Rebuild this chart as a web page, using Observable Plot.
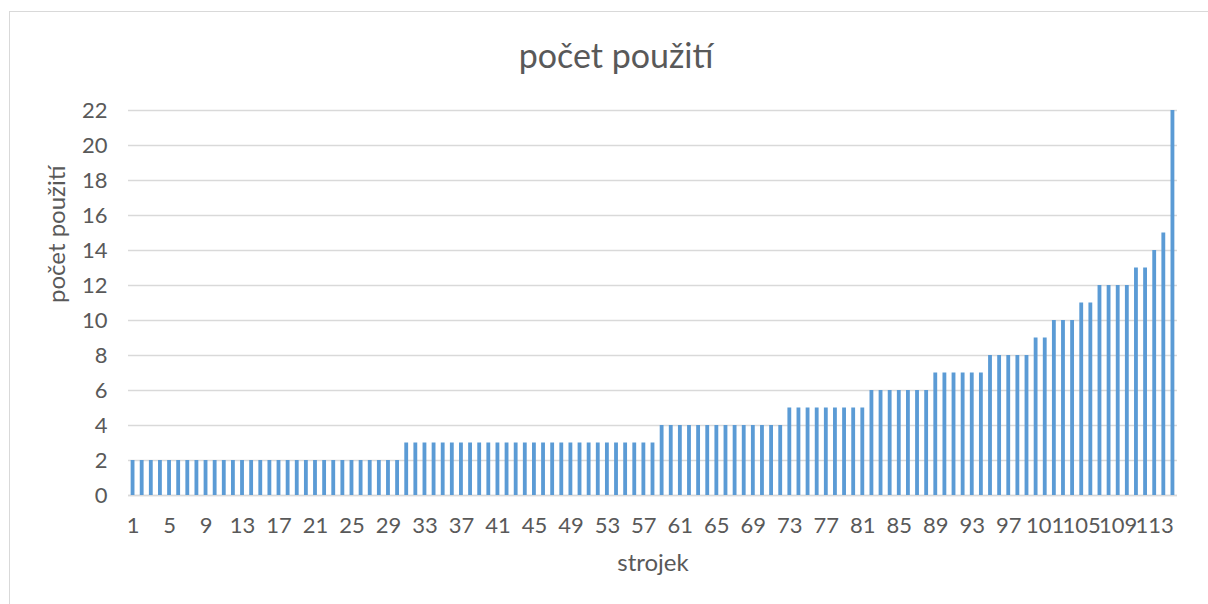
<!DOCTYPE html>
<html>
<head>
<meta charset="utf-8">
<script src="https://cdn.jsdelivr.net/npm/d3@7"></script>
<script src="https://cdn.jsdelivr.net/npm/@observablehq/plot@0.6"></script>
<style>
  html, body { margin: 0; padding: 0; background: #fff; overflow: hidden; }
  #wrap { position: relative; width: 1208px; height: 604px; overflow: hidden; }
  #border { position: absolute; left: 9px; top: 11px; width: 1230px; height: 640px; border: 1px solid #d9d9d9; box-sizing: border-box; }
  #chart { position: absolute; left: 0; top: 0; }
</style>
</head>
<body>
<div id="wrap"><div id="border"></div><div id="chart"></div></div>
<script>
const titleText = "počet použití";
const xTitle = "strojek";
const yTitle = "počet použití";

const strojek = [
  1,2,3,4,5,6,7,8,9,10,11,12,13,14,15,16,17,18,19,20,
  21,22,23,24,25,26,27,28,29,30,31,32,33,34,35,36,37,38,39,40,
  41,42,43,44,45,46,47,48,49,50,51,52,53,54,55,56,57,58,59,60,
  61,62,63,64,65,66,67,68,69,70,71,72,73,74,75,76,77,78,79,80,
  81,82,83,84,85,86,87,88,89,90,91,92,93,94,95,96,97,98,99,100,
  101,102,103,104,105,106,107,108,109,110,111,112,113,114,115
];

const pocet = [
  2,2,2,2,2,2,2,2,2,2, 2,2,2,2,2,2,2,2,2,2, 2,2,2,2,2,2,2,2,2,2,
  3,3,3,3,3,3,3,3,3,3, 3,3,3,3,3,3,3,3,3,3, 3,3,3,3,3,3,3,3,
  4,4,4,4,4,4,4,4,4,4, 4,4,4,4,
  5,5,5,5,5,5,5,5,5,
  6,6,6,6,6,6,6,
  7,7,7,7,7,7,
  8,8,8,8,8,
  9,9,
  10,10,10,
  11,11,
  12,12,12,12,
  13,13,
  14,
  15,
  22
];

const xTickLabels = [1,5,9,13,17,21,25,29,33,37,41,45,49,53,57,61,65,69,73,77,81,85,89,93,97,101,105,109,113];
const yTickValues = [0,2,4,6,8,10,12,14,16,18,20,22];

const data = strojek.map((s, i) => ({strojek: s, pocet: pocet[i]}));

const textColor = "#595959";
const font = "Lato, 'Open Sans', sans-serif";

const chart = Plot.plot({
  width: 1208,
  height: 604,
  marginLeft: 128,
  marginRight: 31,
  marginTop: 110,
  marginBottom: 109,
  style: {fontFamily: font, fontSize: "22px", color: textColor, background: "transparent", overflow: "visible"},
  x: {type: "band", domain: strojek, paddingInner: 0.58, paddingOuter: 0.29, round: false},
  y: {domain: [0, 22]},
  marks: [
    Plot.gridY(yTickValues, {stroke: "#d9d9d9", strokeOpacity: 1, strokeWidth: 1.3}),
    Plot.ruleY([0], {stroke: "#d9d9d9", strokeWidth: 1.6}),
    Plot.barY(data, {x: "strojek", y: "pocet", fill: "#5b9bd5"}),
    Plot.axisY({ticks: yTickValues, tickSize: 0, tickPadding: 21, label: null, fontSize: 22, fill: textColor}),
    Plot.axisX({ticks: xTickLabels, tickSize: 0, tickPadding: 22, label: null, fontSize: 22, fill: textColor}),
    Plot.text([titleText], {frameAnchor: "top", dx: -37, dy: -53, lineAnchor: "middle", fontSize: 34, fill: textColor, text: d => d}),
    Plot.text([xTitle], {frameAnchor: "bottom", dy: 68, lineAnchor: "middle", fontSize: 24, fill: textColor, text: d => d}),
    Plot.text([yTitle], {frameAnchor: "left", dx: -71, rotate: -90, lineAnchor: "middle", fontSize: 24, fill: textColor, text: d => d})
  ]
});
document.getElementById("chart").appendChild(chart);
</script>
</body>
</html>
